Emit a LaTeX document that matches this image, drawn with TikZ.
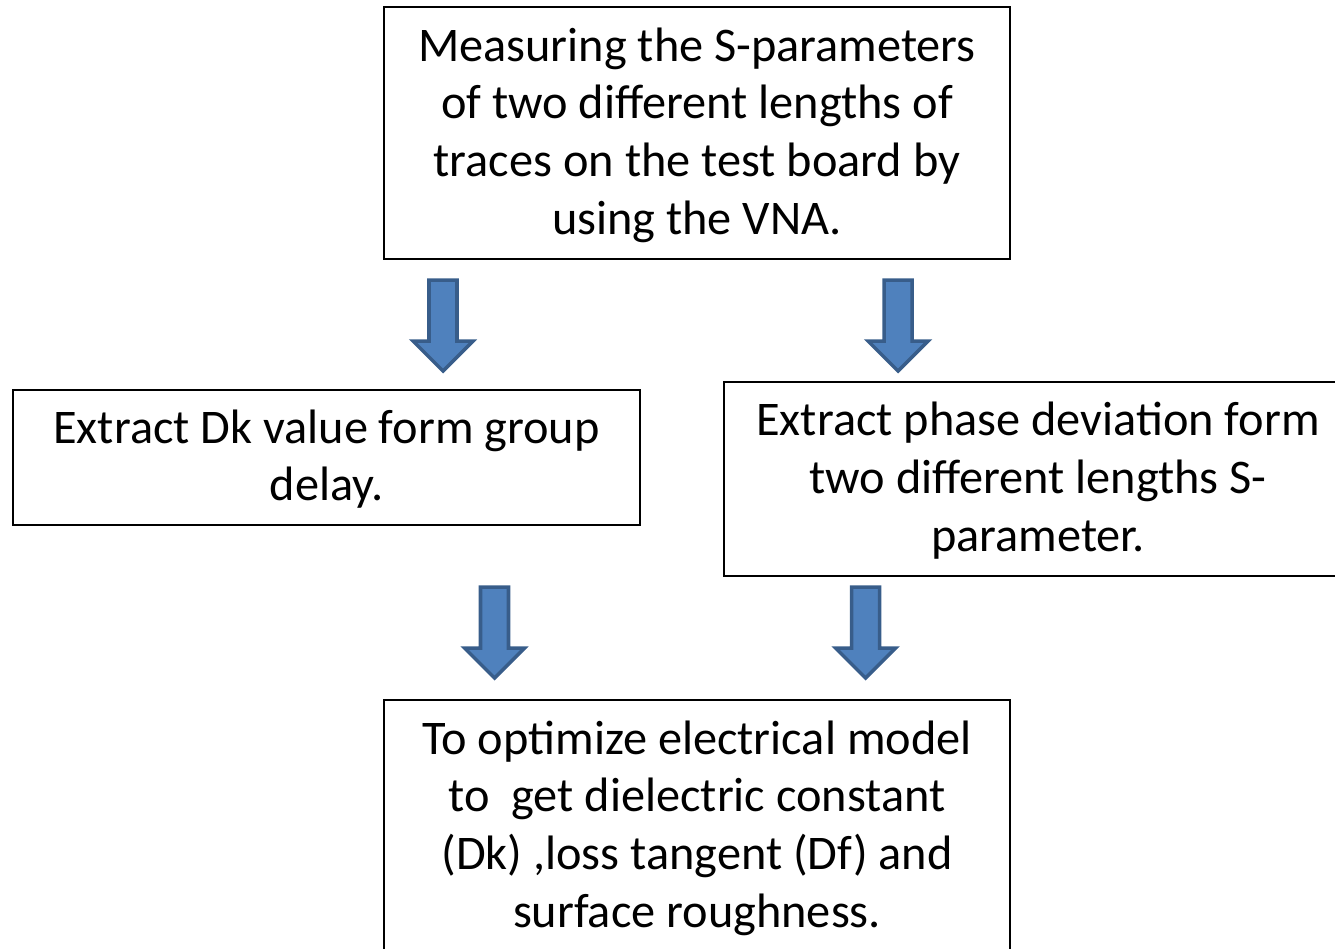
\documentclass[tikz,border=0pt]{standalone}
\usepackage{fontspec}
\setmainfont{Carlito}
\usetikzlibrary{positioning}
\definecolor{arrowblue}{RGB}{79,129,189}
\definecolor{arrowedge}{RGB}{56,93,138}

\begin{document}
\begin{tikzpicture}[x=0.02cm, y=-0.02cm,
box/.style={draw, line width=1.1pt, align=center, inner sep=0pt, text depth=2.5pt, font=\fontsize{27.5}{32.8}\selectfont},
downarrow/.pic={\draw[arrowedge, fill=arrowblue, line width=2pt, miter limit=4]
  (-14,0) -- (14,0) -- (14,61) -- (30,61) -- (0,91) -- (-30,61) -- (-14,61) -- cycle;}]
\clip (0,0) rectangle (1335,948);

% boxes
\node[box, minimum width=12.52cm, minimum height=5.04cm] (meas) at (697,133)
  {Measuring the S-parameters\\ of two different lengths of\\ traces on the test board by\\ using the VNA.};
\node[box, minimum width=12.54cm, minimum height=2.7cm] (dk) at (326.5,457.5)
  {Extract Dk value form group\\ delay.};
\node[box, minimum width=12.56cm, minimum height=3.88cm] (phase) at (1038,479)
  {Extract phase deviation form\\ two different lengths S-\\ parameter.};
\node[box, minimum width=12.52cm, minimum height=5.04cm] (optim) at (697,826)
  {To optimize electrical model\\ to~ get dielectric constant\\ (Dk) ,loss tangent (Df) and\\ surface roughness.};

% block arrows
\coordinate (a1) at (443,280);
\coordinate (a2) at (898,280);
\coordinate (a3) at (494.5,587);
\coordinate (a4) at (865.5,587);
\pic at (a1) {downarrow};
\pic at (a2) {downarrow};
\pic at (a3) {downarrow};
\pic at (a4) {downarrow};

\end{tikzpicture}
\end{document}
